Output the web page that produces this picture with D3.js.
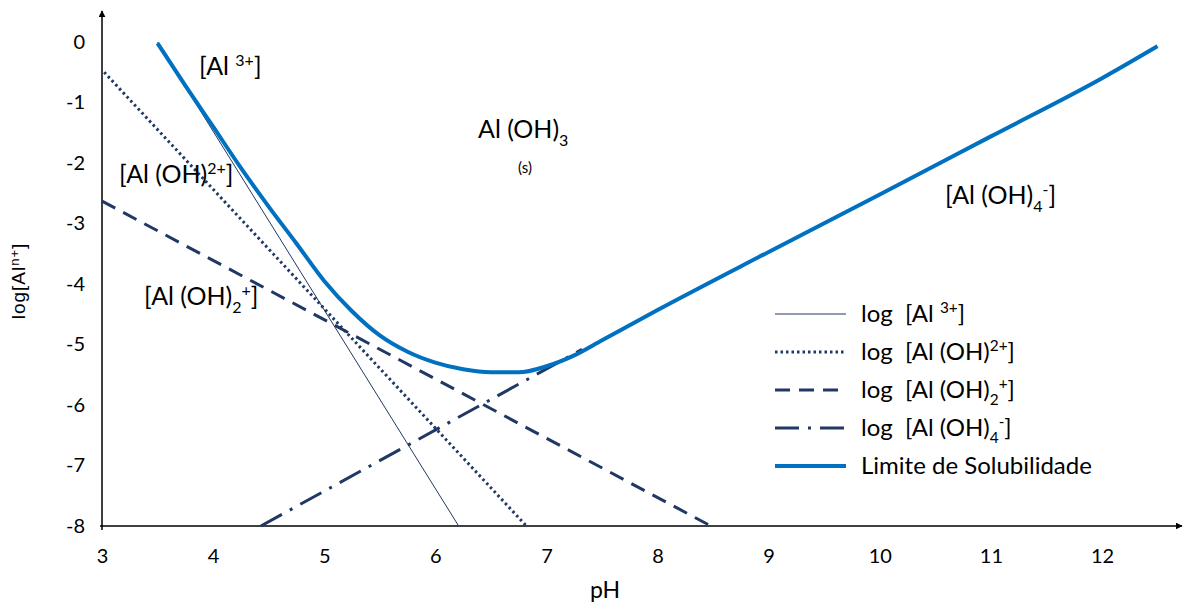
<!DOCTYPE html>
<html>
<head>
<meta charset="utf-8">
<script src="https://cdn.jsdelivr.net/npm/d3@7"></script>
<style>
  body { margin: 0; background: #fff; }
  text { font-family: Lato, "Noto Sans", sans-serif; fill: #000; white-space: pre; }
</style>
</head>
<body>
<div id="chart"></div>
<script>
// data
var xTicks = [3, 4, 5, 6, 7, 8, 9, 10, 11, 12];
var yTicks = [0, -1, -2, -3, -4, -5, -6, -7, -8];

var al3pH = [3.5, 6.21];
var al3Log = [0, -8];

var alOHpH = [3.02, 6.82];
var alOHLog = [-0.5, -8];

var alOH2pH = [3.0, 8.48];
var alOH2Log = [-2.63, -8];

var alOH4pH = [4.43, 7.32];
var alOH4Log = [-8, -5.08];

var solPH = [3.5, 3.75, 4.0, 4.25, 4.5, 4.75, 5.0, 5.25, 5.5, 5.75, 6.0, 6.25, 6.5, 6.75, 7.0, 7.25, 7.5, 8, 9, 10, 11, 12, 12.5];
var solLog = [-0.02, -0.72, -1.4, -2.08, -2.72, -3.33, -3.95, -4.45, -4.85, -5.12, -5.3, -5.41, -5.46, -5.46, -5.36, -5.18, -4.93, -4.43, -3.47, -2.52, -1.56, -0.6, -0.07];

var navy = "#203864";
var blue = "#0070c0";

var svg = d3.select("#chart").append("svg")
  .attr("width", 1183).attr("height", 606);

var x = d3.scaleLinear().domain([3, 12]).range([102, 1102]);
var y = d3.scaleLinear().domain([-8, 0]).range([526, 42]);

// arrow heads
var defs = svg.append("defs");
defs.append("marker")
  .attr("id", "arrow")
  .attr("viewBox", "0 0 10 10")
  .attr("refX", 9).attr("refY", 5)
  .attr("markerWidth", 7).attr("markerHeight", 7)
  .attr("markerUnits", "userSpaceOnUse")
  .attr("orient", "auto")
  .append("path").attr("d", "M0,0 L10,5 L0,10 z").attr("fill", "#000");

var zip = function(a, b){ return a.map(function(v, i){ return [v, b[i]]; }); };
var line = d3.line().x(function(d){ return x(d[0]); }).y(function(d){ return y(d[1]); });

// axes lines
svg.append("line")
  .attr("x1", x(3)).attr("y1", y(-8) + 4).attr("x2", x(3)).attr("y2", 11)
  .attr("stroke", "#000").attr("stroke-width", 1.5).attr("marker-end", "url(#arrow)");
svg.append("line")
  .attr("x1", x(3) - 2).attr("y1", y(-8)).attr("x2", 1182).attr("y2", y(-8))
  .attr("stroke", "#000").attr("stroke-width", 1.5).attr("marker-end", "url(#arrow)");

var xAxis = svg.append("g")
  .attr("transform", "translate(0," + y(-8) + ")")
  .call(d3.axisBottom(x).tickValues(xTicks).tickSize(0).tickPadding(23).tickFormat(function(d){ return d.toString(); }));
xAxis.select(".domain").remove();
xAxis.selectAll("text").attr("font-size", 20).attr("font-family", "Lato");

var yAxis = svg.append("g")
  .attr("transform", "translate(" + x(3) + ",0)")
  .call(d3.axisLeft(y).tickValues(yTicks).tickSize(0).tickPadding(17).tickFormat(function(d){ return d.toString(); }));
yAxis.select(".domain").remove();
yAxis.selectAll("text").attr("font-size", 20).attr("font-family", "Lato");

svg.append("text").attr("x", 605).attr("y", 598)
  .attr("text-anchor", "middle").attr("font-size", 23).text("pH");

var yl = svg.append("text")
  .attr("transform", "translate(25,281) rotate(-90)")
  .attr("text-anchor", "middle")
  .attr("font-size", 19)
  .attr("letter-spacing", 1)
  .style("font-family", "'Liberation Sans', Arial, sans-serif");
yl.append("tspan").text("log[Al");
yl.append("tspan").attr("font-size", 13).attr("dy", -6).text("n+");
yl.append("tspan").attr("dy", 6).text("]");

// series
var series = [
  {pts: zip(al3pH, al3Log), color: navy, w: 1, dash: null},
  {pts: zip(alOHpH, alOHLog), color: navy, w: 3, dash: "2.5,3"},
  {pts: zip(alOH2pH, alOH2Log), color: navy, w: 3, dash: "15,9"},
  {pts: zip(alOH4pH, alOH4Log), color: navy, w: 3, dash: "24,9,3,9"},
  {pts: zip(solPH, solLog), color: blue, w: 4, dash: null}
];

svg.selectAll(".series").data(series).enter()
  .append("path")
  .attr("class", "series")
  .attr("d", function(d){ return line.curve(d3.curveMonotoneX)(d.pts); })
  .attr("fill", "none")
  .attr("stroke", function(d){ return d.color; })
  .attr("stroke-width", function(d){ return d.w; })
  .attr("stroke-dasharray", function(d){ return d.dash; });

// rich labels: parts of [text, kind]; kind n = normal, sup, sub, subsup (sub then sup stacked)
var addLabel = function(px, py, parts, size){
  var t = svg.append("text").attr("x", px).attr("y", py).attr("font-size", size);
  var cur = 0;
  parts.forEach(function(p){
    var off = 0;
    if (p[1] === "sup") off = -size * 0.38;
    if (p[1] === "sub") off = size * 0.3;
    t.append("tspan")
      .attr("dy", off - cur)
      .attr("font-size", p[1] === "n" ? size : size * 0.64)
      .text(p[0]);
    cur = off;
  });
  return t;
};

var A = 25;
addLabel(199, 75, [["[Al ", "n"], ["3+", "sup"], ["]", "n"]], A);
addLabel(478, 138, [["Al (OH)", "n"], ["3", "sub"]], A);
svg.append("text").attr("x", 525).attr("y", 173).attr("text-anchor", "middle").attr("font-size", 15).text("(s)");
addLabel(119, 183, [["[Al (OH)", "n"], ["2+", "sup"], ["]", "n"]], A);
addLabel(144, 305, [["[Al (OH)", "n"], ["2", "sub"], ["+", "sup"], ["]", "n"]], A);
addLabel(945, 204, [["[Al (OH)", "n"], ["4", "sub"], ["-", "sup"], ["]", "n"]], A);

// legend
var legendNames = [
  [["log  [Al ", "n"], ["3+", "sup"], ["]", "n"]],
  [["log  [Al (OH)", "n"], ["2+", "sup"], ["]", "n"]],
  [["log  [Al (OH)", "n"], ["2", "sub"], ["+", "sup"], ["]", "n"]],
  [["log  [Al (OH)", "n"], ["4", "sub"], ["-", "sup"], ["]", "n"]],
  [["Limite de Solubilidade", "n"]]
];
var legY = [314, 352, 390, 428, 466];

legendNames.forEach(function(parts, i){
  var s = series[i];
  svg.append("line")
    .attr("x1", 775).attr("x2", 846).attr("y1", legY[i]).attr("y2", legY[i])
    .attr("stroke", s.color).attr("stroke-width", s.w)
    .attr("stroke-dasharray", s.dash);
  addLabel(861, legY[i] + 8, parts, 24);
});
</script>
</body>
</html>
